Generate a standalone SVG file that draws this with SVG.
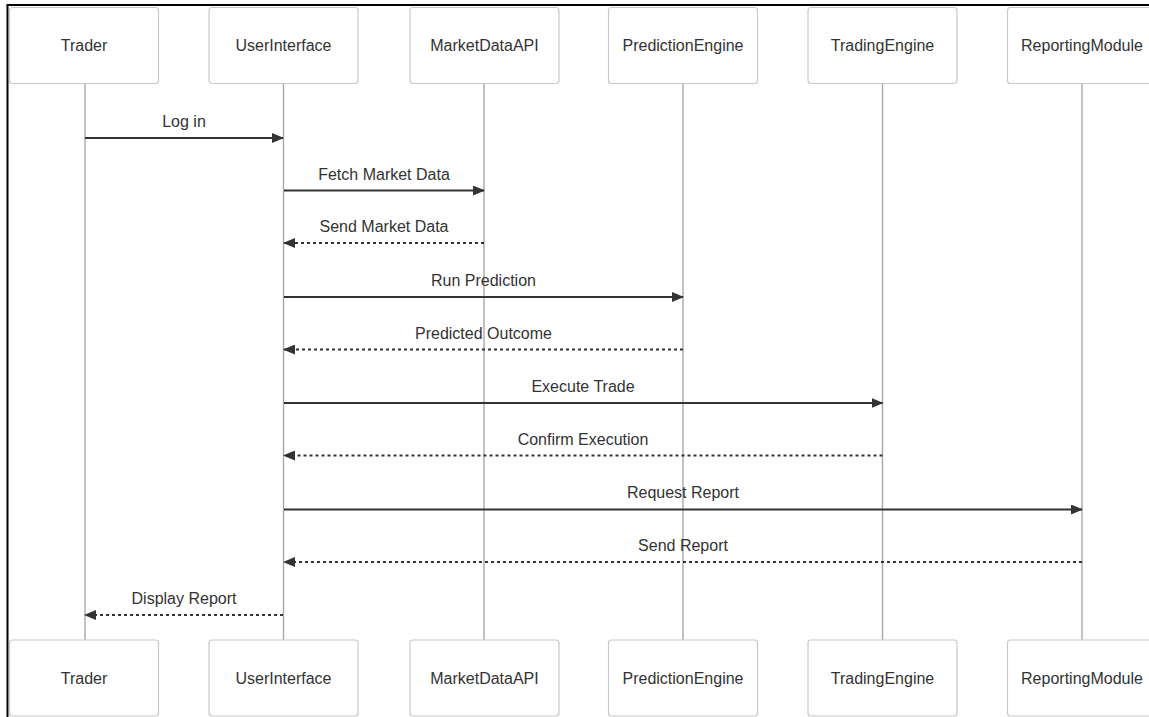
<svg xmlns="http://www.w3.org/2000/svg" width="1149" height="717" viewBox="0 0 1149 717">
<style>
.box{fill:#ffffff;stroke:#c8c8c8;stroke-width:1.2}
.lbl{font-family:"Liberation Sans",Arial,sans-serif;font-size:16px;fill:#333333;text-anchor:middle}
.life{stroke:#a8a8a8;stroke-width:1.4;fill:none}
.msg{stroke:#333333;stroke-width:2;fill:none}
.ret{stroke:#333333;stroke-width:2;fill:none;stroke-dasharray:3 3}
</style>
<defs>
<marker id="ah" markerWidth="12" markerHeight="10" refX="11" refY="5" orient="auto" markerUnits="userSpaceOnUse">
<path d="M0,0 L12,5 L0,10 Z" fill="#333333"/>
</marker>
</defs>
<rect x="0" y="0" width="1149" height="717" fill="#ffffff"/>
<g id="frame">
<line x1="7.5" y1="5" x2="7.5" y2="717" stroke="#000" stroke-width="2"/>
<line x1="6.5" y1="5" x2="1149" y2="5" stroke="#000" stroke-width="2"/>
</g>
<g id="lifelines">
<line class="life" x1="85" y1="84" x2="85" y2="640"/>
<line class="life" x1="283.5" y1="84" x2="283.5" y2="640"/>
<line class="life" x1="484" y1="84" x2="484" y2="640"/>
<line class="life" x1="683" y1="84" x2="683" y2="640"/>
<line class="life" x1="882.5" y1="84" x2="882.5" y2="640"/>
<line class="life" x1="1082" y1="84" x2="1082" y2="640"/>
</g>
<g id="trader-top"><rect class="box" x="9.5" y="7.5" width="149" height="76" rx="3"/><text class="lbl" x="84" y="51">Trader</text></g>
<g id="ui-top"><rect class="box" x="209" y="7.5" width="149" height="76" rx="3"/><text class="lbl" x="283.5" y="51">UserInterface</text></g>
<g id="mdapi-top"><rect class="box" x="410" y="7.5" width="149" height="76" rx="3"/><text class="lbl" x="484.5" y="51">MarketDataAPI</text></g>
<g id="pred-top"><rect class="box" x="608.5" y="7.5" width="149" height="76" rx="3"/><text class="lbl" x="683" y="51">PredictionEngine</text></g>
<g id="trading-top"><rect class="box" x="808" y="7.5" width="149" height="76" rx="3"/><text class="lbl" x="882.5" y="51">TradingEngine</text></g>
<g id="report-top"><rect class="box" x="1007.5" y="7.5" width="149" height="76" rx="3"/><text class="lbl" x="1082" y="51">ReportingModule</text></g>
<g id="trader-bottom"><rect class="box" x="9.5" y="640" width="149" height="76" rx="3"/><text class="lbl" x="84" y="684">Trader</text></g>
<g id="ui-bottom"><rect class="box" x="209" y="640" width="149" height="76" rx="3"/><text class="lbl" x="283.5" y="684">UserInterface</text></g>
<g id="mdapi-bottom"><rect class="box" x="410" y="640" width="149" height="76" rx="3"/><text class="lbl" x="484.5" y="684">MarketDataAPI</text></g>
<g id="pred-bottom"><rect class="box" x="608.5" y="640" width="149" height="76" rx="3"/><text class="lbl" x="683" y="684">PredictionEngine</text></g>
<g id="trading-bottom"><rect class="box" x="808" y="640" width="149" height="76" rx="3"/><text class="lbl" x="882.5" y="684">TradingEngine</text></g>
<g id="report-bottom"><rect class="box" x="1007.5" y="640" width="149" height="76" rx="3"/><text class="lbl" x="1082" y="684">ReportingModule</text></g>
<g id="connectors">
<line class="msg" x1="85" y1="138" x2="283" y2="138" marker-end="url(#ah)"/>
<text class="lbl" x="184" y="127">Log in</text>
<line class="msg" x1="284" y1="190.5" x2="484" y2="190.5" marker-end="url(#ah)"/>
<text class="lbl" x="384" y="180">Fetch Market Data</text>
<line class="ret" x1="484" y1="243" x2="284" y2="243" marker-end="url(#ah)"/>
<text class="lbl" x="384" y="232">Send Market Data</text>
<line class="msg" x1="284" y1="297" x2="683" y2="297" marker-end="url(#ah)"/>
<text class="lbl" x="483.5" y="286">Run Prediction</text>
<line class="ret" x1="683" y1="349.5" x2="284" y2="349.5" marker-end="url(#ah)"/>
<text class="lbl" x="483.5" y="339">Predicted Outcome</text>
<line class="msg" x1="284" y1="403" x2="882.5" y2="403" marker-end="url(#ah)"/>
<text class="lbl" x="583" y="392">Execute Trade</text>
<line class="ret" x1="882.5" y1="455.5" x2="284" y2="455.5" marker-end="url(#ah)"/>
<text class="lbl" x="583" y="445">Confirm Execution</text>
<line class="msg" x1="284" y1="509.5" x2="1082" y2="509.5" marker-end="url(#ah)"/>
<text class="lbl" x="683" y="498">Request Report</text>
<line class="ret" x1="1082" y1="562" x2="284" y2="562" marker-end="url(#ah)"/>
<text class="lbl" x="683" y="551">Send Report</text>
<line class="ret" x1="283" y1="615" x2="85" y2="615" marker-end="url(#ah)"/>
<text class="lbl" x="184" y="604">Display Report</text>
</g>
</svg>
